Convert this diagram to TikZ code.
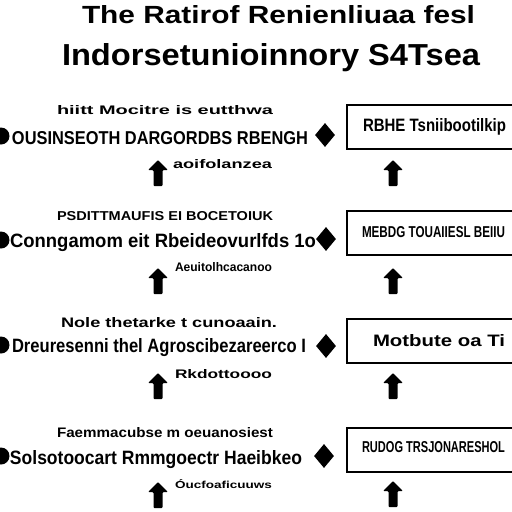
\documentclass[tikz,border=0pt]{standalone}
\usepackage{fontspec}
\setmainfont{Liberation Sans}
\usetikzlibrary{shapes.geometric}
\newcommand{\fitbox}[3]{\resizebox{#1pt}{#2pt}{#3}}
\begin{document}
\begin{tikzpicture}[x=1pt,y=-1pt,
  txt/.style={inner sep=0pt, outer sep=0pt, anchor=base west, font=\bfseries},
  dot/.style={circle, fill=black, minimum size=17pt, inner sep=0pt},
  diam/.style={diamond, fill=black, minimum width=20pt, minimum height=24pt, inner sep=0pt},
  stepbox/.style={draw=black, line width=2pt, minimum width=190pt, minimum height=44pt, anchor=north west, inner sep=0pt},
  uparrow/.pic={\fill[rounded corners=1pt] (0,0) -- (10,10) -- (4.5,10) -- (4.5,26) -- (-4.5,26) -- (-4.5,10) -- (-10,10) -- cycle;}]
\useasboundingbox (0,0) rectangle (512,512);
\fill[white] (0,0) rectangle (512,512);
\clip (0,0) rectangle (512,512);

% title
\node[txt] (t1) at (82,23) {\fitbox{393}{18}{The Ratirof Renienliuaa fesl}};
\node[txt] (t2) at (62,65) {\fitbox{418}{22}{Indorsetunioinnory S4Tsea}};

% row 1
\node[txt] (r1a) at (57,114) {\fitbox{216}{9}{hiitt Mocitre is eutthwa}};
\node[dot] (c1) at (1,136) {};
\node[txt] (r1b) at (12,144) {\fitbox{296}{13}{OUSINSEOTH DARGORDBS RBENGH}};
\node[diam] (d1) at (325,135) {};
\node[txt] (r1c) at (173,168) {\fitbox{99}{9}{aoifolanzea}};
\pic at (158,160) {uparrow};
\node[stepbox] (b1) at (346,104) {};
\node[txt] (b1t) at (363,131) {\fitbox{143}{13}{RBHE Tsniibootilkip}};
\pic at (393,160) {uparrow};

% row 2
\node[txt] (r2a) at (57,220) {\fitbox{216}{9}{PSDITTMAUFIS EI BOCETOIUK}};
\node[dot] (c2) at (1,240) {};
\node[txt] (r2b) at (10,247) {\fitbox{306}{14}{Conngamom eit Rbeideovurlfds 1o}};
\node[diam] (d2) at (326,239) {};
\node[txt] (r2c) at (175,271) {\fitbox{97}{9}{Aeuitolhcacanoo}};
\pic at (158,268) {uparrow};
\node[stepbox] (b2) at (346,210) {};
\node[txt] (b2t) at (362,237) {\fitbox{143}{11}{MEBDG TOUAIIESL BEIIU}};
\pic at (393,268) {uparrow};

% row 3
\node[txt] (r3a) at (61,327) {\fitbox{216}{10}{Nole thetarke t cunoaain.}};
\node[dot] (c3) at (1,345) {};
\node[txt] (r3b) at (12,352) {\fitbox{294}{14}{Dreuresenni thel Agroscibezareerco I}};
\node[diam] (d3) at (326,346) {};
\node[txt] (r3c) at (175,378) {\fitbox{97}{9}{Rkdottoooo}};
\pic at (158,373) {uparrow};
\node[stepbox] (b3) at (346,318) {};
\node[txt] (b3t) at (373,346) {\fitbox{132}{12}{Motbute oa Ti}};
\pic at (393,373) {uparrow};

% row 4
\node[txt] (r4a) at (57,437) {\fitbox{216}{10}{Faemmacubse m oeuanosiest}};
\node[dot] (c4) at (1,456) {};
\node[txt] (r4b) at (10,464) {\fitbox{292}{14}{Solsotoocart Rmmgoectr Haeibkeo}};
\node[diam] (d4) at (324,456) {};
\node[txt] (r4c) at (175,488) {\fitbox{97}{9}{Óucfoaficuuws}};
\pic at (158,482) {uparrow};
\node[stepbox] (b4) at (346,427) {};
\node[txt] (b4t) at (362,452) {\fitbox{143}{11}{RUDOG TRSJONARESHOL}};
\pic at (393,481) {uparrow};
\end{tikzpicture}
\end{document}
